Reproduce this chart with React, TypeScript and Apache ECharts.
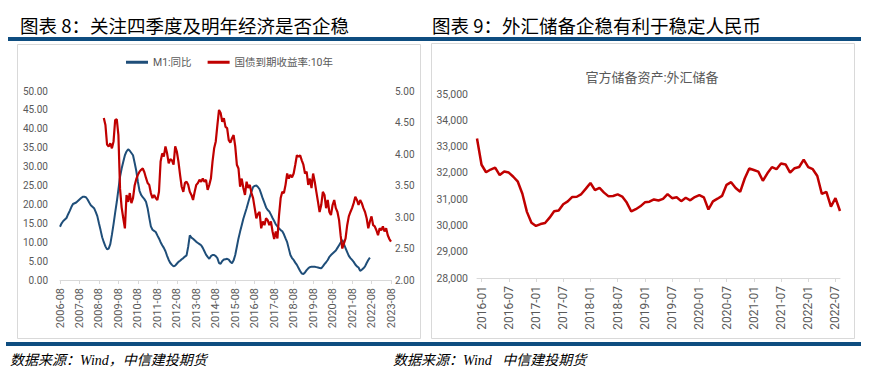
import React, { useEffect, useRef } from "react";
import * as echarts from "echarts";

function monthRange(startY: number, startM: number, count: number): string[] {
  const out: string[] = [];
  let y = startY;
  let m = startM;
  for (let i = 0; i < count; i++) {
    out.push(`${y}-${m < 10 ? "0" + m : m}`);
    m++;
    if (m > 12) { m = 1; y++; }
  }
  return out;
}

// Left chart: monthly categories 2006-08 .. 2023-08
const leftMonths = monthRange(2006, 8, 205);
// Right chart: monthly categories 2015-12 .. 2022-08
const rightMonths = monthRange(2015, 12, 81);

const leftLegend = ["M1:同比", "国债到期收益率:10年"];
const rightTitle = "官方储备资产:外汇储备";

// M1 YoY (%), from 2006-08
const m1Values = [
  14.1, 15.0, 15.6, 16.0, 16.4, 17.4, 18.3, 19.3, 20.1, 20.3, 20.5, 20.9,
  21.3, 21.7, 22.0, 22.0, 21.9, 21.3, 20.5, 19.8, 19.4, 19.0, 18.0, 16.9,
  15.0, 13.2, 11.3, 10.0, 8.9, 8.1, 8.3, 9.5, 12.0, 14.8, 17.8, 20.7,
  24.0, 27.3, 29.5, 31.3, 33.0, 34.0, 34.6, 34.2, 33.6, 33.0, 31.0, 28.9,
  26.0, 23.6, 22.5, 21.9, 21.4, 20.7, 19.0, 16.5, 14.2, 13.3, 13.0, 12.7,
  11.8, 11.0, 10.0, 9.2, 8.5, 7.6, 6.4, 5.3, 4.5, 4.0, 3.6, 3.8,
  4.3, 4.8, 5.1, 5.5, 5.8, 6.2, 6.5, 8.8, 11.8, 11.2, 10.9, 10.5,
  10.1, 9.8, 9.5, 9.2, 8.5, 7.6, 6.7, 6.1, 5.6, 6.3, 6.6, 6.6,
  6.3, 5.8, 4.5, 4.3, 5.0, 5.4, 5.5, 5.6, 5.4, 4.8, 4.4, 5.2,
  6.6, 8.8, 11.0, 12.8, 14.5, 16.2, 17.6, 19.0, 20.5, 22.0, 23.4, 24.6,
  24.9, 25.0, 24.6, 24.0, 22.8, 21.5, 20.4, 19.2, 18.5, 18.1, 17.3, 16.4,
  15.6, 14.7, 14.2, 13.6, 13.2, 12.9, 12.1, 11.0, 10.0, 8.3, 6.6, 5.8,
  5.3, 4.6, 4.0, 3.2, 2.4, 1.7, 1.6, 2.0, 2.6, 3.1, 3.4, 3.5,
  3.5, 3.5, 3.4, 3.3, 3.2, 3.1, 3.6, 4.2, 4.7, 5.3, 6.1, 6.6,
  7.0, 7.4, 7.8, 8.5, 9.2, 9.9, 10.6, 9.5, 8.4, 7.4, 6.4, 5.8,
  5.3, 4.8, 4.1, 3.6, 3.3, 2.4, 2.7, 3.1, 3.6, 4.5, 5.3, 5.9,
];

// 10Y government bond yield (%), starts at category index 27
const yieldStartIndex = 27;
const yieldValues = [
  4.57, 4.46, 4.15, 4.12, 4.17, 4.09, 4.20, 4.54, 4.55, 4.30, 3.45, 3.15, 2.98,
  2.82, 3.35, 3.24, 3.38, 3.22, 3.30, 3.50, 3.60, 3.67, 3.72, 3.75, 3.77, 3.71,
  3.62, 3.54, 3.51, 3.38, 3.30, 3.35, 3.30, 3.27, 3.40, 3.88, 4.01, 3.96, 4.12,
  4.01, 3.85, 3.92, 3.90, 3.83, 4.12, 4.04, 3.88, 3.67, 3.48, 3.40, 3.54, 3.56,
  3.51, 3.40, 3.35, 3.27, 3.40, 3.51, 3.54, 3.59, 3.56, 3.61, 3.56, 3.59, 3.43,
  3.51, 3.61, 3.88, 4.09, 4.20, 4.46, 4.70, 4.65, 4.51, 4.57, 4.43, 4.41, 4.22,
  4.18, 4.25, 4.30, 4.12, 3.83, 3.77, 3.48, 3.61, 3.46, 3.35, 3.56, 3.46, 3.51,
  3.38, 3.30, 3.14, 2.98, 3.05, 3.08, 2.82, 2.93, 2.87, 2.98, 2.95, 2.87, 2.93,
  2.77, 2.65, 2.77, 2.66, 3.03, 3.30, 3.40, 3.38, 3.51, 3.69, 3.61, 3.67, 3.63,
  3.69, 3.83, 3.98, 3.96, 3.98, 3.90, 3.83, 3.69, 3.72, 3.51, 3.61, 3.46, 3.69,
  3.56, 3.40, 3.24, 3.08, 3.19, 3.40, 3.35, 3.14, 3.27, 3.08, 3.03, 3.19, 3.27,
  3.14, 3.08, 2.95, 2.70, 2.50, 2.58, 2.66, 2.87, 3.01, 3.08, 3.14, 3.22, 3.32,
  3.27, 3.19, 3.27, 3.22, 3.14, 3.08, 2.98, 2.82, 2.93, 3.01, 2.87, 2.85, 2.79,
  2.71, 2.82, 2.79, 2.85, 2.77, 2.82, 2.71, 2.65, 2.61,
];

// FX reserves (100 million USD), 2015-12 .. 2022-08
const fxValues = [
  33304,
  32309, 32023, 32126, 32197, 31917, 32052, 32011, 31852, 31664, 31206, 30516, 30105,
  29982, 30051, 30091, 30295, 30536, 30568, 30807, 30915, 31085, 31092, 31193, 31399,
  31615, 31345, 31428, 31249, 31106, 31121, 31179, 31097, 30870, 30531, 30617, 30727,
  30879, 30902, 30988, 30950, 31010, 31192, 31037, 31072, 30924, 31052, 30956, 31079,
  31155, 31067, 30606, 30915, 31017, 31123, 31544, 31646, 31426, 31280, 31785, 32165,
  32107, 32048, 31700, 31982, 32218, 32140, 32359, 32321, 32006, 32176, 32224, 32502,
  32216, 32138, 31880, 31197, 31278, 30713, 31041, 30549,
];

const titleLeft = "图表 8：关注四季度及明年经济是否企稳";
const titleRight = "图表 9：外汇储备企稳有利于稳定人民币";
const sourceLeft = "数据来源：Wind，中信建投期货";
const sourceRight = "数据来源：Wind   中信建投期货";

const GRAY = "#595959";
const AXIS = "#D9D9D9";
const BLUE_BAR = "#0E4D80";
const M1_COLOR = "#1F4E79";
const RED = "#C00000";
const SANS = 'Roboto, "Noto Sans CJK SC", sans-serif';
const TITLE_FONT = '"Noto Sans CJK SC", sans-serif';
const SRC_FONT = '"Liberation Serif", "Noto Sans CJK SC", serif';

const halfYear = (_i: number, v: string) => v.endsWith("-01") || v.endsWith("-07");

export default function App() {
  const ref = useRef<HTMLDivElement>(null);
  useEffect(() => {
    if (!ref.current) return;
    const chart = echarts.init(ref.current, null, { renderer: "svg" });
    const yieldData = [
      ...new Array(yieldStartIndex).fill(null),
      ...yieldValues,
    ];
    const option: any = {
      animation: false,
      textStyle: { fontFamily: SANS },
      legend: {
        data: leftLegend,
        left: 126,
        top: 57,
        padding: 0,
        icon: "rect",
        itemWidth: 22,
        itemHeight: 3,
        itemGap: 16,
        textStyle: { fontSize: 10.5, color: GRAY, fontFamily: SANS },
      },
      grid: [
        { left: 60, top: 91, width: 331, height: 189 },
        { left: 477, top: 94, width: 363, height: 184 },
      ],
      xAxis: [
        {
          type: "category",
          gridIndex: 0,
          data: leftMonths,
          boundaryGap: false,
          axisLine: { lineStyle: { color: AXIS } },
          axisTick: { interval: 11, length: 4, lineStyle: { color: AXIS } },
          axisLabel: { interval: 11, rotate: 90, fontSize: 11, color: GRAY, margin: 8 },
          splitLine: { show: false },
        },
        {
          type: "category",
          gridIndex: 1,
          data: rightMonths,
          boundaryGap: false,
          axisLine: { lineStyle: { color: AXIS } },
          axisTick: { interval: halfYear, length: 4, lineStyle: { color: AXIS } },
          axisLabel: { interval: halfYear, rotate: 90, fontSize: 12, color: GRAY, margin: 8 },
          splitLine: { show: false },
        },
      ],
      yAxis: [
        {
          type: "value",
          gridIndex: 0,
          position: "left",
          min: 0,
          max: 50,
          interval: 5,
          axisLine: { show: false },
          axisTick: { show: false },
          splitLine: { show: false },
          axisLabel: { formatter: (v: number) => v.toFixed(2), fontSize: 10, color: GRAY, margin: 12 },
        },
        {
          type: "value",
          gridIndex: 0,
          position: "right",
          min: 2,
          max: 5,
          interval: 0.5,
          axisLine: { show: false },
          axisTick: { show: false },
          splitLine: { show: false },
          axisLabel: { formatter: (v: number) => v.toFixed(2), fontSize: 10, color: GRAY, margin: 4 },
        },
        {
          type: "value",
          gridIndex: 1,
          position: "left",
          min: 28000,
          max: 35000,
          interval: 1000,
          axisLine: { show: false },
          axisTick: { show: false },
          splitLine: { show: false },
          axisLabel: {
            formatter: (v: number) => v.toLocaleString("en-US"),
            fontSize: 10.5,
            color: GRAY,
            margin: 9,
          },
        },
      ],
      series: [
        {
          name: leftLegend[0],
          type: "line",
          xAxisIndex: 0,
          yAxisIndex: 0,
          data: m1Values,
          showSymbol: false,
          symbol: "none",
          color: M1_COLOR,
          lineStyle: { color: M1_COLOR, width: 2 },
        },
        {
          name: leftLegend[1],
          type: "line",
          xAxisIndex: 0,
          yAxisIndex: 1,
          data: yieldData,
          showSymbol: false,
          symbol: "none",
          color: RED,
          lineStyle: { color: RED, width: 2.2 },
        },
        {
          name: rightTitle,
          type: "line",
          xAxisIndex: 1,
          yAxisIndex: 2,
          data: fxValues,
          showSymbol: false,
          symbol: "none",
          color: RED,
          lineStyle: { color: RED, width: 2.5 },
        },
      ],
      graphic: [
        { type: "rect", shape: { x: 8, y: 37, width: 853, height: 4 }, style: { fill: BLUE_BAR }, silent: true },
        { type: "rect", shape: { x: 6, y: 342, width: 855, height: 4 }, style: { fill: BLUE_BAR }, silent: true },
        { type: "rect", shape: { x: 17.5, y: 44.5, width: 403, height: 294 }, style: { fill: "none", stroke: AXIS, lineWidth: 1 }, silent: true, z: -1 },
        { type: "rect", shape: { x: 431.5, y: 43.5, width: 423, height: 295 }, style: { fill: "none", stroke: AXIS, lineWidth: 1 }, silent: true, z: -1 },
        {
          type: "text",
          x: 20,
          y: 25,
          style: { text: titleLeft, font: `18.5px ${TITLE_FONT}`, fill: "#000", textVerticalAlign: "middle" },
        },
        {
          type: "text",
          x: 432,
          y: 25,
          style: { text: titleRight, font: `18.5px ${TITLE_FONT}`, fill: "#000", textVerticalAlign: "middle" },
        },
        {
          type: "text",
          x: 652,
          y: 77,
          style: { text: rightTitle, font: `13px ${SANS}`, fill: GRAY, textAlign: "center", textVerticalAlign: "middle" },
        },
        {
          type: "text",
          x: 10,
          y: 360,
          style: { text: sourceLeft, font: `italic 14px ${SRC_FONT}`, fill: "#000", textVerticalAlign: "middle" },
        },
        {
          type: "text",
          x: 393,
          y: 360,
          style: { text: sourceRight, font: `italic 14px ${SRC_FONT}`, fill: "#000", textVerticalAlign: "middle" },
        },
      ],
    };
    chart.setOption(option);
    return () => chart.dispose();
  }, []);
  return (
    <div
      ref={ref}
      style={{ position: "absolute", left: 0, top: 0, width: 874, height: 369, background: "#fff" }}
    />
  );
}
